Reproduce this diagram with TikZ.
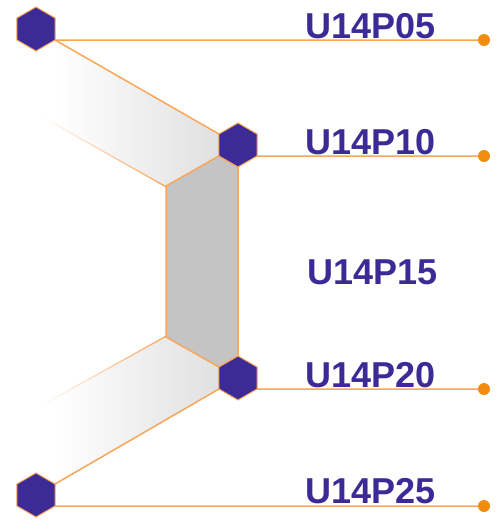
\documentclass[tikz,border=0pt]{standalone}
\usepackage{fontspec}
\setmainfont{Liberation Sans}
\usetikzlibrary{shapes.geometric,backgrounds}
\definecolor{hexblue}{HTML}{3C2A97}
\definecolor{lineorange}{HTML}{F7A65A}
\definecolor{dotorange}{HTML}{F08C10}
\definecolor{facegray}{HTML}{C4C4C4}
\definecolor{bandgray}{HTML}{E0E0E0}
\pgfdeclarehorizontalshading{bandfade}{100bp}{color(0bp)=(white); color(30bp)=(white); color(75bp)=(bandgray); color(100bp)=(bandgray)}
\pgfdeclarehorizontalshading{edgefade}{100bp}{color(0bp)=(white); color(25bp)=(white); color(75bp)=(lineorange); color(100bp)=(lineorange)}
\tikzset{
    hex/.style={regular polygon, regular polygon sides=6, shape border rotate=30,
        minimum size=44pt, inner sep=0pt, outer sep=0pt,
        fill=hexblue, draw=lineorange, line width=1pt},
    enddot/.style={circle, fill=dotorange, minimum size=12pt, inner sep=0pt, outer sep=0pt},
    porttext/.style={anchor=base west, inner sep=0pt, text=hexblue,
        font=\fontsize{36}{40}\selectfont\bfseries},
    wire/.style={lineorange, line width=1.5pt},
}
\begin{document}
\begin{tikzpicture}[x=1pt, y=-1pt]
    \useasboundingbox (0, 0) rectangle (501, 520);

    \node[hex] (hexA) at (36, 29) {};
    \node[hex] (hexB) at (238, 145) {};
    \node[hex] (hexC) at (238, 378) {};
    \node[hex] (hexD) at (36, 495) {};

    \node[enddot] (dotA) at (484, 40) {};
    \node[enddot] (dotB) at (484, 156) {};
    \node[enddot] (dotC) at (484, 389) {};
    \node[enddot] (dotD) at (484, 506) {};

    \coordinate (upNear) at (166, 186);
    \coordinate (upFar) at (40, 115);
    \coordinate (lowNear) at (166, 337);
    \coordinate (lowFar) at (40, 407);

    \begin{scope}[on background layer]
    \shade[shading=bandfade] (hexA.330) -- (hexB.150) -- (hexB.210) -- (upNear) -- (upFar) -- cycle;
    \shade[shading=bandfade] (lowNear) -- (hexC.150) -- (hexC.210) -- (hexD.30) -- (hexD.90) -- (lowFar) -- cycle;
    \shade[shading=edgefade] (upFar) -- (upNear) -- ([yshift=-1.5pt]upNear) -- ([yshift=-1.5pt]upFar) -- cycle;
    \shade[shading=edgefade] (lowFar) -- (lowNear) -- ([yshift=1.5pt]lowNear) -- ([yshift=1.5pt]lowFar) -- cycle;
    \filldraw[wire, fill=facegray] (upNear) -- (hexB.210) -- (hexB.270) -- (hexC.90) -- (hexC.150) -- (lowNear) -- cycle;
    \draw[wire] (hexA.330) -- (hexB.150);
    \draw[wire] (hexC.210) -- (hexD.30);
    \draw[wire] (hexA.330) -- (dotA);
    \draw[wire] (hexB.330) -- (dotB);
    \draw[wire] (hexC.330) -- (dotC);
    \draw[wire] (hexD.330) -- (dotD);
    \end{scope}

    \node[porttext] (labA) at (305, 38) {U14P05};
    \node[porttext] (labB) at (305, 154) {U14P10};
    \node[porttext] (labC) at (307, 284) {U14P15};
    \node[porttext] (labD) at (305, 387) {U14P20};
    \node[porttext] (labE) at (305, 503) {U14P25};
\end{tikzpicture}
\end{document}
